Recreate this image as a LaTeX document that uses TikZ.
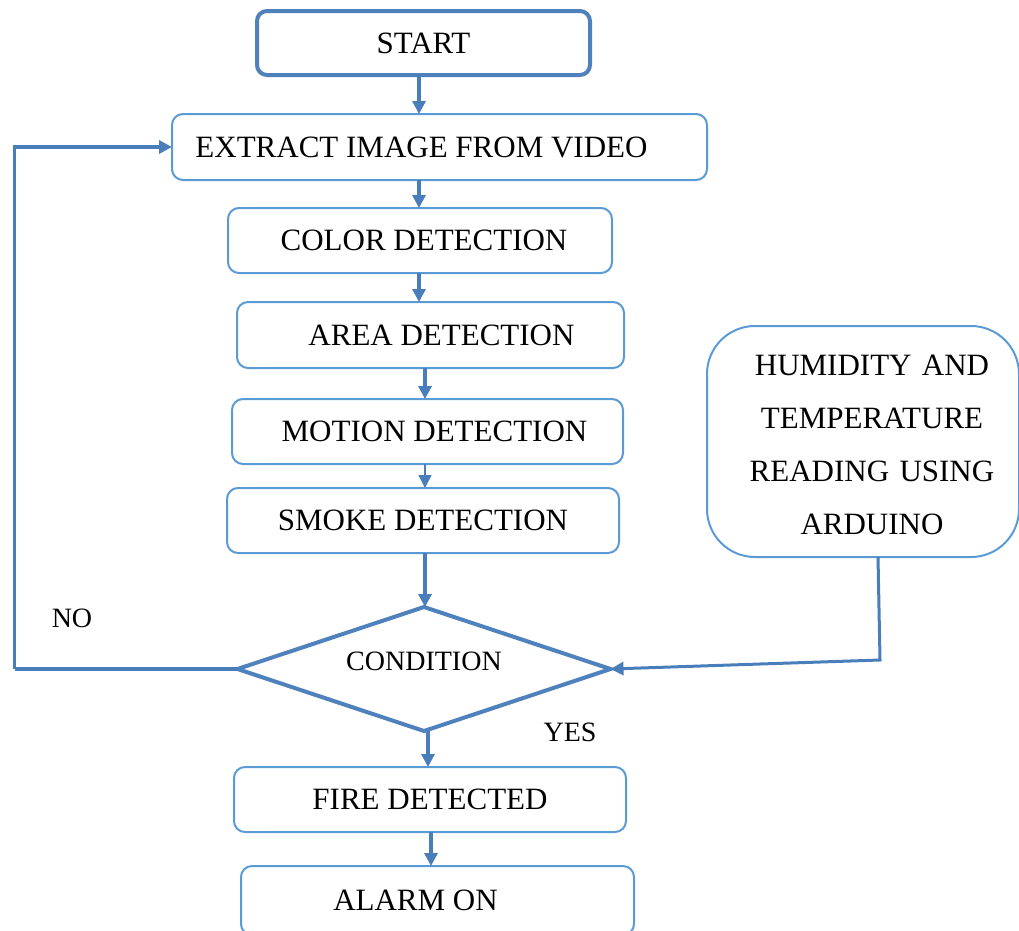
\documentclass[tikz,border=0pt]{standalone}
\usepackage{fontspec}
\setmainfont{Liberation Serif}
\usetikzlibrary{arrows.meta,calc,positioning,shapes.geometric}
\definecolor{BoxLine}{HTML}{5B9BD5}
\definecolor{DarkLine}{HTML}{4F81BD}
\definecolor{ArrowBlue}{HTML}{4A7EBB}

\begin{document}
\begin{tikzpicture}[
      node distance=30pt,
      stepbox/.style={draw=BoxLine,line width=2pt,rounded corners=11pt,outer sep=0pt,
        minimum height=65pt,align=center,font=\fontsize{31}{36}\selectfont},
      startbox/.style={stepbox,draw=DarkLine,line width=4pt,rounded corners=10pt},
      decision/.style={diamond,aspect=3,draw=DarkLine,line width=4pt,inner sep=0pt,outer sep=0pt,
        minimum width=373pt,minimum height=124pt,font=\fontsize{28}{32}\selectfont},
      sensorbox/.style={stepbox,rounded corners=48pt,text width=280pt,
        font=\fontsize{31}{53}\selectfont},
      answer/.style={font=\fontsize{28}{32}\selectfont},
      arrow/.style={-{Triangle[length=13pt,width=13pt]},line width=3.5pt,color=ArrowBlue}
    ]
      \useasboundingbox (0,0) rectangle (1019pt,-930pt);
      \node[startbox,minimum width=333pt,minimum height=64pt] (start) at (423.5pt,-43pt) {START};
      \node[stepbox,minimum width=535pt,minimum height=66pt,below=39pt of start,xshift=16pt] (extract)
        {\hspace*{-36pt}EXTRACT IMAGE FROM VIDEO};
      \node[stepbox,minimum width=384pt,below=28pt of extract,xshift=-19.5pt] (color)
        {\hspace*{8pt}COLOR DETECTION};
      \node[stepbox,minimum width=387pt,minimum height=66pt,below=29pt of color,xshift=10.5pt] (area)
        {\hspace*{22pt}AREA DETECTION};
      \node[stepbox,minimum width=391pt,below=31pt of area,xshift=-3pt] (motion) {\hspace*{14pt}MOTION DETECTION};
      \node[stepbox,minimum width=392pt,below=24pt of motion,xshift=-4.5pt] (smoke) {SMOKE DETECTION};
      \node[decision,below=54pt of smoke,xshift=1pt] (cond) {\raisebox{16pt}{CONDITION}};
      \node[stepbox,minimum width=392pt,below=36pt of cond,xshift=6pt] (fire) {FIRE DETECTED};
      \node[stepbox,minimum width=393pt,minimum height=69pt,below=34pt of fire,xshift=7.5pt] (alarm)
        {\hspace*{-44pt}ALARM ON};
      \node[sensorbox,minimum width=312pt,minimum height=231pt] (humid) at (863pt,-441.5pt)
        {\rule{0pt}{26.5pt}\hspace*{18pt}HUMIDITY AND\\\hspace*{18pt}TEMPERATURE\\
         \hspace*{18pt}READING USING\\\hspace*{18pt}ARDUINO};
      \node[answer] (no) at (72pt,-618pt) {NO};
      \node[answer] (yes) at (570pt,-732pt) {YES};
      % main chain
      \draw[arrow] ([xshift=-4.5pt]start.south) -- ([xshift=-4.5pt]start.south |- extract.north);
      \draw[arrow] ([xshift=-1pt]color.north |- extract.south) -- ([xshift=-1pt]color.north);
      \draw[arrow] ([xshift=-1pt]color.south) -- ([xshift=-1pt]color.south |- area.north);
      \draw[arrow] ([xshift=-5.5pt]area.south) -- ([xshift=-5.5pt]area.south |- motion.north);
      \draw[arrow,line width=1.5pt] ([xshift=2pt]smoke.north |- motion.south) -- ([xshift=2pt]smoke.north);
      \draw[arrow] ([xshift=2pt]smoke.south) -- ([xshift=1pt]cond.north);
      \draw[arrow] ([xshift=4pt]cond.south) -- ([xshift=4pt]cond.south |- fire.north);
      \draw[arrow] ([xshift=1pt]fire.south) -- ([xshift=1pt]fire.south |- alarm.north);
      % loop back and sensor input
      \draw[arrow,-] (cond.west) -- ++(-223pt,0) coordinate (loop);
      \draw[arrow] (loop) |- (extract.west);
      \draw[arrow,line width=3pt] ([xshift=15pt]humid.south) -- ++(2pt,-103pt) -- (cond.east);
    \end{tikzpicture}
\end{document}
